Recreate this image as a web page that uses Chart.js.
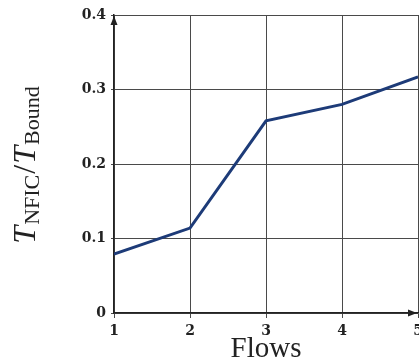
<!DOCTYPE html>
<html>
<head>
<meta charset="utf-8">
<script src="https://cdn.jsdelivr.net/npm/chart.js@4.4.1/dist/chart.umd.min.js"></script>
<style>
  html, body { margin: 0; padding: 0; background: #ffffff; overflow: hidden; }
  #wrap { position: relative; width: 440px; height: 361px; }
</style>
</head>
<body>
<div id="wrap"><canvas id="c" width="440" height="361"></canvas></div>
<script>
// Number of flows on the x axis and the measured throughput ratio
const flows = [1, 2, 3, 4, 5];
const ratio = [0.079, 0.114, 0.258, 0.280, 0.317];
const yTicks = [0, 0.1, 0.2, 0.3, 0.4];
const xLabel = 'Flows';

const INK = '#222222';
const GRID = '#4a4a4a';
const LINE = '#1d3b78';

// Axis arrows and the axis titles (with subscripts)
const decor = {
  id: 'decor',
  afterDraw(chart) {
    const { ctx, chartArea: a } = chart;
    ctx.save();
    ctx.fillStyle = INK;
    // arrow at top of y axis
    ctx.beginPath();
    ctx.moveTo(a.left, a.top + 1);
    ctx.lineTo(a.left - 3.5, a.top + 10);
    ctx.lineTo(a.left + 3.5, a.top + 10);
    ctx.closePath();
    ctx.fill();
    // arrow at right end of x axis
    ctx.beginPath();
    ctx.moveTo(a.right - 1, a.bottom);
    ctx.lineTo(a.right - 10, a.bottom - 3.5);
    ctx.lineTo(a.right - 10, a.bottom + 3.5);
    ctx.closePath();
    ctx.fill();

    // x title
    ctx.fillStyle = INK;
    ctx.font = '29px "Liberation Serif", serif';
    ctx.textAlign = 'center';
    ctx.textBaseline = 'alphabetic';
    ctx.fillText(xLabel, (a.left + a.right) / 2, 357);

    // y title: T_NFIC / T_Bound
    const parts = [
      { t: 'T', f: 'italic 32px "Liberation Serif", serif', dy: 0, gap: 1 },
      { t: 'NFIC', f: '22px "Liberation Serif", serif', dy: 3.5, gap: 1 },
      { t: '/', f: '32px "Liberation Serif", serif', dy: 0, gap: 1 },
      { t: 'T', f: 'italic 32px "Liberation Serif", serif', dy: 0, gap: 1 },
      { t: 'Bound', f: '22px "Liberation Serif", serif', dy: 3.5, gap: 0 }
    ];
    let total = 0;
    parts.forEach(p => { ctx.font = p.f; p.w = ctx.measureText(p.t).width; total += p.w + p.gap; });
    ctx.translate(35, 165);
    ctx.rotate(-Math.PI / 2);
    ctx.textAlign = 'left';
    let x = -total / 2;
    parts.forEach(p => {
      ctx.font = p.f;
      ctx.fillText(p.t, x, p.dy);
      x += p.w + p.gap;
    });
    ctx.restore();
  }
};

new Chart(document.getElementById('c'), {
  type: 'line',
  data: {
    datasets: [{
      data: flows.map((f, i) => ({ x: f, y: ratio[i] })),
      borderColor: LINE,
      borderWidth: 3,
      pointRadius: 0,
      tension: 0,
      fill: false
    }]
  },
  options: {
    responsive: false,
    animation: false,
    layout: { padding: { top: 15, right: 22, left: 0, bottom: 0 } },
    plugins: { legend: { display: false }, tooltip: { enabled: false } },
    scales: {
      x: {
        type: 'linear',
        min: 1, max: 5,
        afterFit(s) { s.height = 48; },
        afterBuildTicks(s) { s.ticks = flows.map(v => ({ value: v })); },
        grid: { color: GRID, lineWidth: 1, tickLength: 5, tickColor: GRID },
        border: { color: INK, width: 1.5 },
        ticks: {
          color: INK,
          padding: 5,
          maxRotation: 0,
          font: { family: '"DejaVu Serif", serif', weight: 'bold', size: 14 },
          callback: v => String(v)
        }
      },
      y: {
        min: 0, max: 0.4,
        afterFit(s) { s.width = 114; },
        afterBuildTicks(s) { s.ticks = yTicks.map(v => ({ value: v })); },
        grid: { color: GRID, lineWidth: 1, tickLength: 3, tickColor: GRID },
        border: { color: INK, width: 1.5 },
        ticks: {
          color: INK,
          padding: 5,
          font: { family: '"DejaVu Serif", serif', weight: 'bold', size: 14 },
          callback: v => (v === 0 ? '0' : v.toFixed(1))
        }
      }
    }
  },
  plugins: [decor]
});
</script>
</body>
</html>
